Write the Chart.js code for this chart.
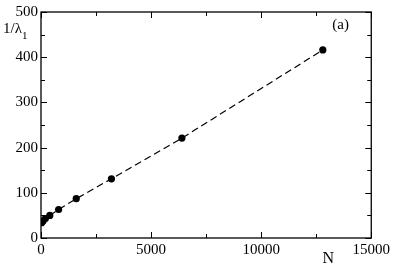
<!DOCTYPE html>
<html>
<head>
<meta charset="utf-8">
<script src="https://cdn.jsdelivr.net/npm/chart.js@4.4.0/dist/chart.umd.min.js"></script>
<style>
html,body{margin:0;padding:0;background:#fff;}
#wrap{width:393px;height:266px;position:relative;}
</style>
</head>
<body>
<div id="wrap"><canvas id="c" width="393" height="266"></canvas></div>
<script>
const sizesN = [25, 50, 100, 200, 400, 800, 1600, 3200, 6400, 12800];
const invLambda = [34, 36, 38, 43, 50, 63, 87, 131, 221, 416];
const xTicks = [0, 5000, 10000, 15000];
const yTicks = [0, 100, 200, 300, 400, 500];
const xMinor = [2500, 7500, 12500];
const yMinor = [50, 150, 250, 350, 450];
const panelLabel = '(a)';
const xTitle = 'N';

const FONT = '"Liberation Serif", "Times New Roman", serif';

const frame = {
  id: 'frame',
  afterDraw(chart) {
    const ctx = chart.ctx;
    const a = chart.chartArea;
    const xs = chart.scales.x, ys = chart.scales.y;
    ctx.save();
    ctx.strokeStyle = '#000';
    ctx.lineWidth = 1.3;
    ctx.strokeRect(a.left, a.top, a.right - a.left, a.bottom - a.top);
    ctx.lineWidth = 1;
    ctx.beginPath();
    const maj = 6, min = 4;
    xTicks.forEach(v => { const p = Math.round(xs.getPixelForValue(v)) + 0.5;
      ctx.moveTo(p, a.bottom); ctx.lineTo(p, a.bottom - maj);
      ctx.moveTo(p, a.top); ctx.lineTo(p, a.top + maj); });
    xMinor.forEach(v => { const p = Math.round(xs.getPixelForValue(v)) + 0.5;
      ctx.moveTo(p, a.bottom); ctx.lineTo(p, a.bottom - min);
      ctx.moveTo(p, a.top); ctx.lineTo(p, a.top + min); });
    yTicks.forEach(v => { const p = Math.round(ys.getPixelForValue(v)) + 0.5;
      ctx.moveTo(a.left, p); ctx.lineTo(a.left + maj, p);
      ctx.moveTo(a.right, p); ctx.lineTo(a.right - maj, p); });
    yMinor.forEach(v => { const p = Math.round(ys.getPixelForValue(v)) + 0.5;
      ctx.moveTo(a.left, p); ctx.lineTo(a.left + min, p);
      ctx.moveTo(a.right, p); ctx.lineTo(a.right - min, p); });
    ctx.stroke();

    ctx.fillStyle = '#000';
    // panel label
    ctx.font = '15px ' + FONT;
    ctx.textAlign = 'left'; ctx.textBaseline = 'alphabetic';
    ctx.fillText(panelLabel, xs.getPixelForValue(13230), ys.getPixelForValue(462));
    // x title
    ctx.font = '16px ' + FONT;
    ctx.textAlign = 'center';
    ctx.fillText(xTitle, xs.getPixelForValue(13050), a.bottom + 25);
    // y title 1/λ1
    ctx.font = '15px ' + FONT;
    ctx.textAlign = 'left';
    const yb = ys.getPixelForValue(441) - 0;
    const base = 33;
    ctx.fillText('1/λ', 3, base);
    const w = ctx.measureText('1/λ').width;
    ctx.font = '11px ' + FONT;
    ctx.fillText('1', 3 + w, base + 6);
    ctx.restore();
  }
};

new Chart(document.getElementById('c'), {
  type: 'scatter',
  data: {
    datasets: [{
      data: sizesN.map((n, i) => ({x: n, y: invLambda[i]})),
      showLine: true,
      borderColor: '#000',
      borderWidth: 1.2,
      borderDash: [7, 4],
      pointRadius: 3.6,
      pointBackgroundColor: '#000',
      pointBorderColor: '#000',
      pointBorderWidth: 0
    }]
  },
  options: {
    responsive: false,
    animation: false,
    devicePixelRatio: 1,
    layout: {padding: {left: 0, right: 21, top: 6, bottom: 0}},
    plugins: {legend: {display: false}, tooltip: {enabled: false}},
    scales: {
      x: {
        type: 'linear', min: 0, max: 15000,
        afterBuildTicks: s => { s.ticks = xTicks.map(v => ({value: v})); },
        afterFit: s => { s.height = 28; },
        grid: {display: false, drawTicks: false},
        border: {display: false},
        ticks: {color: '#000', font: {family: FONT, size: 15}, padding: 3, maxRotation: 0,
          callback: v => String(v)}
      },
      y: {
        type: 'linear', min: 0, max: 500,
        afterBuildTicks: s => { s.ticks = yTicks.map(v => ({value: v})); },
        afterFit: s => { s.width = 41; },
        grid: {display: false, drawTicks: false},
        border: {display: false},
        ticks: {color: '#000', font: {family: FONT, size: 15}, padding: 3,
          callback: v => String(v)}
      }
    }
  },
  plugins: [frame]
});
</script>
</body>
</html>
